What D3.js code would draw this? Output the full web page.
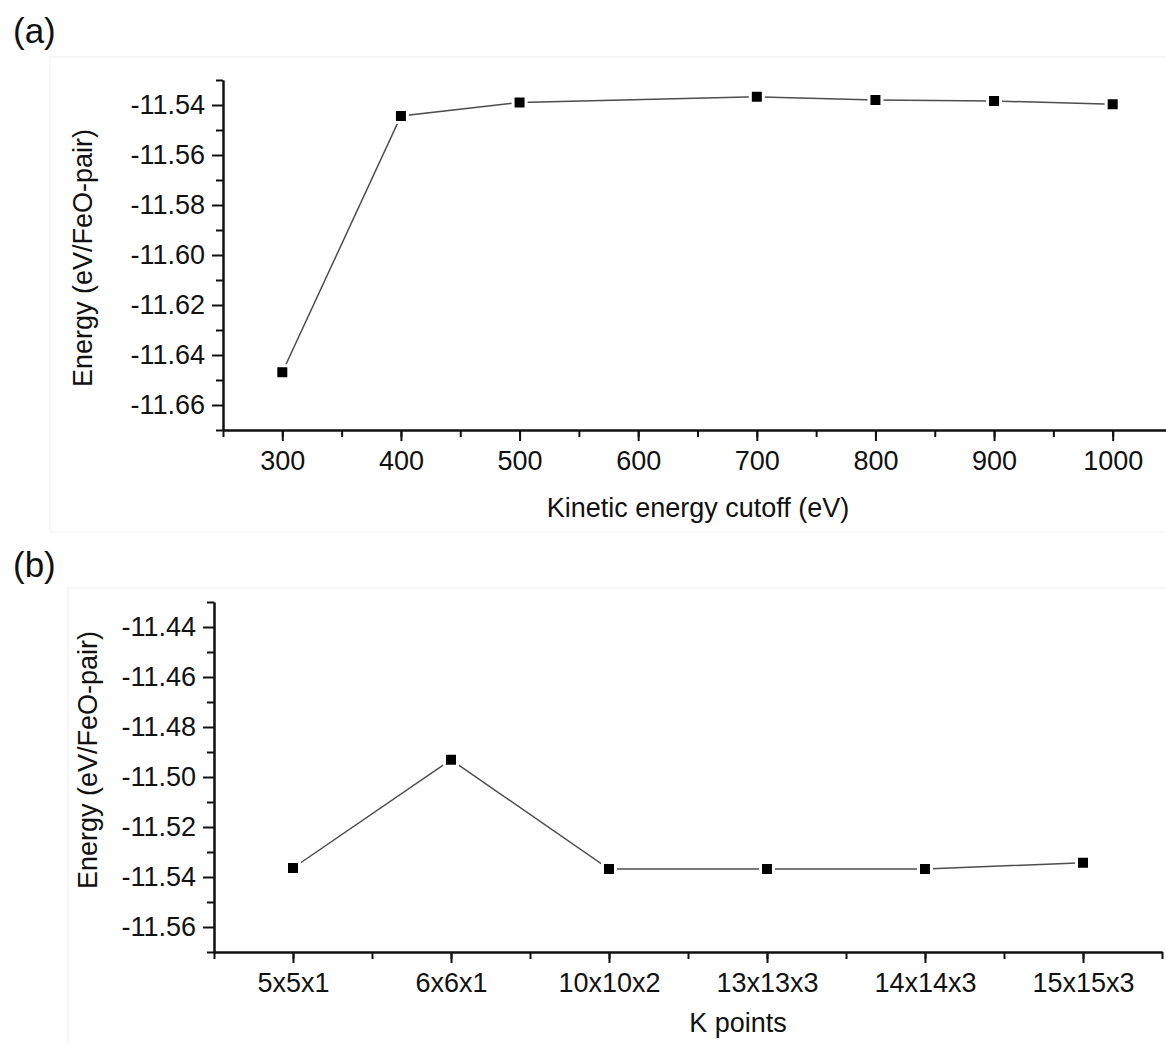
<!DOCTYPE html>
<html>
<head>
<meta charset="utf-8">
<script src="https://cdn.jsdelivr.net/npm/d3@7"></script>
<style>
  body { margin: 0; background: #fff; }
  text { font-family: "Liberation Sans", Arial, sans-serif; fill: #111; }
</style>
</head>
<body>
<svg id="svg" width="1166" height="1044"></svg>
<script>
// panel (a) - cutoff test
var cutoff = [300, 400, 500, 700, 800, 900, 1000];
var cutoffEnergy = [-11.6469, -11.5444, -11.5390, -11.5367, -11.5380, -11.5384, -11.5397];
var cutoffTicks = [300, 400, 500, 600, 700, 800, 900, 1000];

// panel (b) - k-point test
var kpoints = ["5x5x1", "6x6x1", "10x10x2", "13x13x3", "14x14x3", "15x15x3"];
var kEnergy = [-11.5364, -11.4931, -11.5368, -11.5368, -11.5368, -11.5343];

var energyTicksA = [-11.66, -11.64, -11.62, -11.60, -11.58, -11.56, -11.54];
var energyTicksB = [-11.56, -11.54, -11.52, -11.50, -11.48, -11.46, -11.44];

var svg = d3.select("#svg");

// faint frames of the two sub-pictures
svg.append("rect").attr("x", 50).attr("y", 57).attr("width", 1130).attr("height", 475)
  .attr("fill", "none").attr("stroke", "#f2f2f2");
svg.append("rect").attr("x", 68).attr("y", 588).attr("width", 1110).attr("height", 470)
  .attr("fill", "none").attr("stroke", "#f2f2f2");

var styleAxis = function(g) {
  g.selectAll("path").attr("stroke", "#111").attr("stroke-width", 2);
  g.selectAll("line").attr("stroke", "#111").attr("stroke-width", 2);
  g.selectAll("text").attr("font-size", 27).attr("fill", "#111")
    .attr("font-family", "'Liberation Sans', Arial, sans-serif");
};

var steps = function(lo, hi, step) {
  var out = [];
  for (var v = lo; v <= hi + 1e-9; v += step) out.push(+v.toFixed(4));
  return out;
};

var drawSeries = function(xs, ys, x, y) {
  var pts = xs.map(function(d, i) { return [x(d), y(ys[i])]; });
  svg.append("path")
    .attr("d", d3.line()(pts))
    .attr("fill", "none")
    .attr("stroke", "#4d4d4d")
    .attr("stroke-width", 1.5);
  svg.selectAll(null).data(pts).enter().append("rect")
    .attr("x", function(d) { return d[0] - 5; })
    .attr("y", function(d) { return d[1] - 5; })
    .attr("width", 10).attr("height", 10)
    .attr("fill", "#000")
    .attr("stroke", "#fff").attr("stroke-width", 6)
    .style("paint-order", "stroke");
};

// ---------- panel (a)
var xa = d3.scaleLinear().domain([250, 1050]).range([223, 1172]);
var ya = d3.scaleLinear().domain([-11.67, -11.53]).range([430, 80]);

svg.append("g").attr("transform", "translate(0,430)")
  .call(d3.axisBottom(xa).tickValues(steps(250, 1050, 50)).tickSize(7).tickSizeOuter(0).tickFormat(""))
  .call(styleAxis);
svg.append("g").attr("transform", "translate(0,430)")
  .call(d3.axisBottom(xa).tickValues(cutoffTicks).tickSize(11).tickSizeOuter(0).tickPadding(10)
    .tickFormat(d3.format("d")))
  .call(styleAxis);

svg.append("g").attr("transform", "translate(223,0)")
  .call(d3.axisLeft(ya).tickValues(steps(-11.67, -11.53, 0.02)).tickSize(7).tickSizeOuter(0).tickFormat(""))
  .call(styleAxis);
svg.append("g").attr("transform", "translate(223,0)")
  .call(d3.axisLeft(ya).tickValues(energyTicksA).tickSize(11).tickSizeOuter(0).tickPadding(7)
    .tickFormat(function(d) { return d.toFixed(2); }))
  .call(styleAxis);

drawSeries(cutoff, cutoffEnergy, xa, ya);

svg.append("text").attr("x", 13).attr("y", 43).attr("font-size", 35).text("(a)");
svg.append("text").attr("x", 698).attr("y", 517).attr("font-size", 27)
  .attr("text-anchor", "middle").text("Kinetic energy cutoff (eV)");
svg.append("text").attr("transform", "translate(92,258) rotate(-90)")
  .attr("font-size", 27).attr("text-anchor", "middle").text("Energy (eV/FeO-pair)");

// ---------- panel (b)
var xb = d3.scaleLinear().domain([-0.5, kpoints.length - 0.5]).range([214, 1162]);
var yb = d3.scaleLinear().domain([-11.57, -11.43]).range([952, 602]);

svg.append("g").attr("transform", "translate(0,952)")
  .call(d3.axisBottom(xb).tickValues(steps(-0.5, kpoints.length - 0.5, 0.5)).tickSize(7).tickSizeOuter(0).tickFormat(""))
  .call(styleAxis);
svg.append("g").attr("transform", "translate(0,952)")
  .call(d3.axisBottom(xb).tickValues(d3.range(kpoints.length)).tickSize(11).tickSizeOuter(0).tickPadding(10)
    .tickFormat(function(i) { return kpoints[i]; }))
  .call(styleAxis);

svg.append("g").attr("transform", "translate(214,0)")
  .call(d3.axisLeft(yb).tickValues(steps(-11.57, -11.43, 0.02)).tickSize(7).tickSizeOuter(0).tickFormat(""))
  .call(styleAxis);
svg.append("g").attr("transform", "translate(214,0)")
  .call(d3.axisLeft(yb).tickValues(energyTicksB).tickSize(11).tickSizeOuter(0).tickPadding(7)
    .tickFormat(function(d) { return d.toFixed(2); }))
  .call(styleAxis);

drawSeries(d3.range(kpoints.length), kEnergy, xb, yb);

svg.append("text").attr("x", 13).attr("y", 577).attr("font-size", 35).text("(b)");
svg.append("text").attr("x", 738).attr("y", 1032).attr("font-size", 27)
  .attr("text-anchor", "middle").text("K points");
svg.append("text").attr("transform", "translate(97,760) rotate(-90)")
  .attr("font-size", 27).attr("text-anchor", "middle").text("Energy (eV/FeO-pair)");
</script>
</body>
</html>
